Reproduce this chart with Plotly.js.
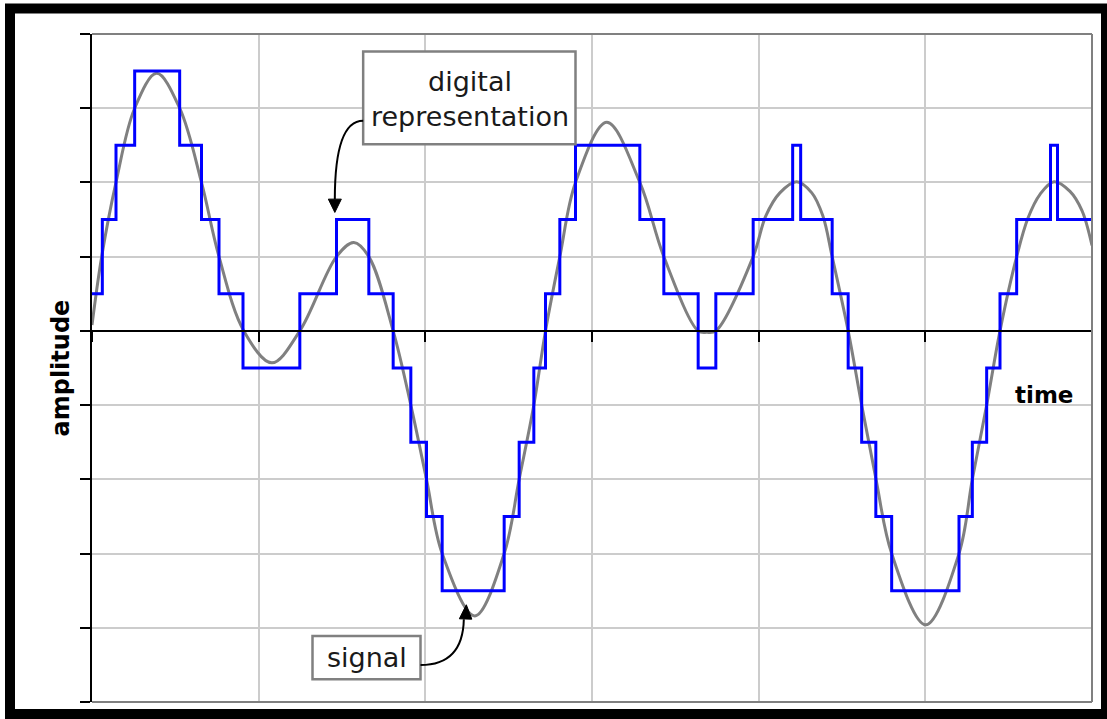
<!DOCTYPE html>
<html>
<head>
<meta charset="utf-8">
<script src="https://cdn.plot.ly/plotly-3.0.1.min.js"></script>
<style>
html,body{margin:0;padding:0;background:#ffffff;}
#chart{width:1107px;height:719px;}
</style>
</head>
<body>
<div id="chart"></div>
<script>
// ---- data ----
// analogue signal (grey curve)
const signalTime = [0, 0.058, 0.144, 0.256, 0.388, 0.526, 0.657, 0.762, 0.911, 1.079,
  1.247, 1.467, 1.571, 1.661, 1.807, 1.913, 2.007, 2.101, 2.297, 2.473,
  2.563, 2.651, 2.721, 2.807, 2.901, 3.089, 3.287, 3.431, 3.637, 3.689,
  3.743, 3.967, 4.043, 4.127, 4.228, 4.319, 4.385, 4.441, 4.537,
  4.618, 4.704, 4.798, 5.002, 5.202, 5.282, 5.368, 5.448, 5.548, 5.616,
  5.688, 5.772, 5.868, 5.940, 6.0];
const signalAmp = [0.08, 1, 2, 3, 3.47, 3, 2, 1, 0, -0.43,
  0, 1, 1.19, 1, 0, -1, -2, -3, -3.84, -3,
  -2, -1, 0, 1, 2, 2.81, 2, 1, 0, -0.02,
  0, 1, 1.55, 1.86, 2.01, 1.86, 1.55, 1, 0,
  -1, -2, -3, -3.96, -3, -2, -1, 0, 1, 1.52,
  1.84, 2.01, 1.88, 1.62, 1.15];

// digital representation (blue steps): level starting at each time
const digitalTime = [0, 0.062, 0.144, 0.256, 0.526, 0.657, 0.762, 0.906, 1.247, 1.467,
  1.661, 1.807, 1.913, 2.007, 2.101, 2.473, 2.563, 2.651, 2.721, 2.807,
  2.901, 3.287, 3.431, 3.637, 3.743, 3.967, 4.204, 4.252, 4.441, 4.537,
  4.618, 4.703, 4.798, 5.202, 5.282, 5.368, 5.448, 5.548, 5.751, 5.793, 6.0];
const digitalLevel = [0.5, 1.5, 2.5, 3.5, 2.5, 1.5, 0.5, -0.5, 0.5, 1.5,
  0.5, -0.5, -1.5, -2.5, -3.5, -2.5, -1.5, -0.5, 0.5, 1.5,
  2.5, 1.5, 0.5, -0.5, 0.5, 1.5, 2.5, 1.5, 0.5, -0.5,
  -1.5, -2.5, -3.5, -2.5, -1.5, -0.5, 0.5, 1.5, 2.5, 1.5, 1.5];

// axis ticks (no labels shown)
const xTicks = [0, 1, 2, 3, 4, 5, 6];
const yTicks = [-5, -4, -3, -2, -1, 0, 1, 2, 3, 4];

const labelAmplitude = 'amplitude';
const labelTime = 'time';
const labelDigital = 'digital<br>representation';
const labelSignal = 'signal';

// ---- chart ----
const traces = [
  {
    x: signalTime, y: signalAmp, type: 'scatter', mode: 'lines',
    line: {color: '#808080', width: 3, shape: 'spline', smoothing: 1},
    hoverinfo: 'skip', name: 'signal'
  },
  {
    x: digitalTime, y: digitalLevel, type: 'scatter', mode: 'lines',
    line: {color: '#0000ff', width: 3, shape: 'hv'},
    hoverinfo: 'skip', name: 'digital representation'
  }
];

const textFont = {family: 'DejaVu Sans', size: 27, color: '#1a1a1a'};

const layout = {
  width: 1107, height: 719,
  margin: {l: 92, r: 15, t: 34, b: 17, pad: 0},
  paper_bgcolor: '#ffffff', plot_bgcolor: '#ffffff',
  showlegend: false,
  xaxis: {
    range: [0, 6], tickmode: 'array', tickvals: xTicks, showticklabels: false,
    showgrid: true, gridcolor: '#cccccc', gridwidth: 2,
    zeroline: false, showline: true, linecolor: '#000000', linewidth: 2,
    ticks: 'outside', ticklen: 10, tickwidth: 2, tickcolor: '#000000',
    anchor: 'free', position: 5 / 9, fixedrange: true
  },
  yaxis: {
    range: [-5, 4], tickmode: 'array', tickvals: yTicks, showticklabels: false,
    showgrid: true, gridcolor: '#cccccc', gridwidth: 2,
    zeroline: false, showline: true, linecolor: '#000000', linewidth: 2,
    ticks: 'outside', ticklen: 10, tickwidth: 2, tickcolor: '#000000',
    fixedrange: true
  },
  shapes: [
    // plot area border (top, right, bottom)
    {type: 'line', xref: 'paper', yref: 'paper', x0: 0, x1: 1, y0: 1, y1: 1, line: {color: '#808080', width: 2}, layer: 'above'},
    {type: 'line', xref: 'paper', yref: 'paper', x0: 1, x1: 1, y0: 0, y1: 1, line: {color: '#808080', width: 2}, layer: 'above'},
    {type: 'line', xref: 'paper', yref: 'paper', x0: 0, x1: 1, y0: 0, y1: 0, line: {color: '#808080', width: 2}, layer: 'above'},
    // outer black frame
    {type: 'rect', xref: 'paper', yref: 'paper', x0: -0.082, x1: 1.014, y0: -0.018, y1: 1.038,
      line: {color: '#000000', width: 10}, fillcolor: 'rgba(0,0,0,0)', layer: 'above'},
    // callout boxes
    {type: 'rect', xref: 'x', yref: 'y', x0: 1.627, x1: 2.901, y0: 2.516, y1: 3.765,
      line: {color: '#808080', width: 2.5}, fillcolor: '#ffffff', layer: 'above'},
    {type: 'rect', xref: 'x', yref: 'y', x0: 1.323, x1: 1.971, y0: -4.694, y1: -4.111,
      line: {color: '#808080', width: 2.5}, fillcolor: '#ffffff', layer: 'above'},
    // curved arrows
    {type: 'path', xref: 'x', yref: 'y', path: 'M 1.627,2.830 Q 1.457,2.830 1.457,1.774',
      line: {color: '#000000', width: 2}, layer: 'above'},
    {type: 'path', xref: 'x', yref: 'y', path: 'M 1.418,1.775 L 1.496,1.775 L 1.457,1.596 Z',
      line: {color: '#000000', width: 1}, fillcolor: '#000000', layer: 'above'},
    {type: 'path', xref: 'x', yref: 'y', path: 'M 1.971,-4.502 Q 2.225,-4.502 2.231,-3.885',
      line: {color: '#000000', width: 2}, layer: 'above'},
    {type: 'path', xref: 'x', yref: 'y', path: 'M 2.204,-3.879 L 2.279,-3.884 L 2.246,-3.690 Z',
      line: {color: '#000000', width: 1}, fillcolor: '#000000', layer: 'above'}
  ],
  annotations: [
    {text: labelDigital, xref: 'x', yref: 'y', x: 2.267, y: 3.123, showarrow: false,
      xanchor: 'center', yanchor: 'middle', align: 'center', font: textFont},
    {text: labelSignal, xref: 'x', yref: 'y', x: 1.649, y: -4.398, showarrow: false,
      xanchor: 'center', yanchor: 'middle', font: textFont},
    {text: '<b>' + labelTime + '</b>', xref: 'paper', yref: 'paper', x: 0.952, y: 0.4596,
      showarrow: false, xanchor: 'center', yanchor: 'middle',
      font: {family: 'DejaVu Sans', size: 23, color: '#000000'}},
    {text: '<b>' + labelAmplitude + '</b>', xref: 'paper', yref: 'paper', x: -0.0315, y: 0.5,
      textangle: -90, showarrow: false, xanchor: 'center', yanchor: 'middle',
      font: {family: 'DejaVu Sans', size: 24, color: '#000000'}}
  ]
};

Plotly.newPlot('chart', traces, layout, {staticPlot: true, displayModeBar: false});
</script>
</body>
</html>
